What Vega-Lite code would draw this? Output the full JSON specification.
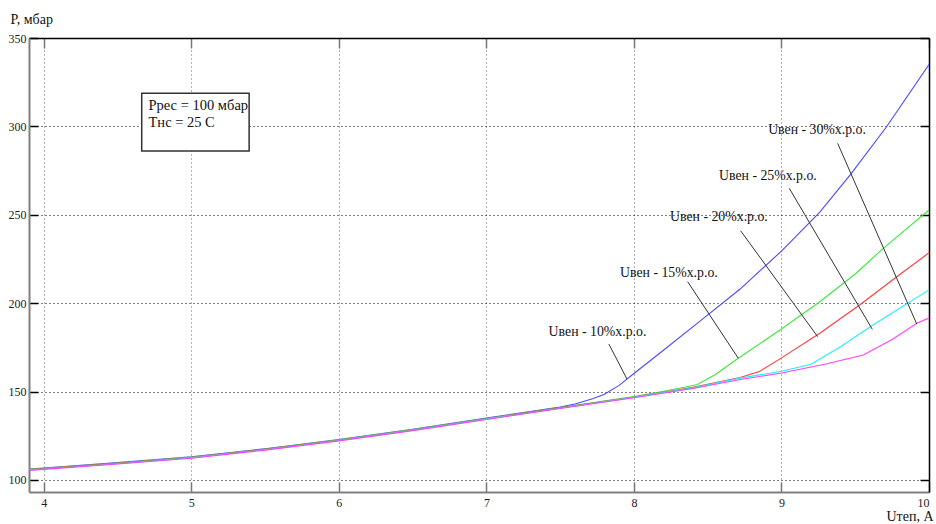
{
  "$schema": "https://vega.github.io/schema/vega-lite/v6.json",
  "width": 900,
  "height": 454,
  "autosize": "none",
  "padding": {"left": 29, "top": 38, "right": 7, "bottom": 32},
  "background": "white",
  "config": {"view": {"stroke": null}, "font": "Liberation Serif"},
  "datasets": {
    "curves": [
      {"u": 3.9, "p": 106.2, "s": "10%"}, {"u": 4.0, "p": 106.8, "s": "10%"}, {"u": 4.5, "p": 109.8, "s": "10%"}, {"u": 5.0, "p": 113.1, "s": "10%"}, {"u": 5.5, "p": 117.7, "s": "10%"}, {"u": 6.0, "p": 122.9, "s": "10%"}, {"u": 6.5, "p": 128.7, "s": "10%"}, {"u": 7.0, "p": 135.0, "s": "10%"}, {"u": 7.5, "p": 141.3, "s": "10%"}, {"u": 7.6, "p": 143.0, "s": "10%"}, {"u": 7.72, "p": 146.0, "s": "10%"}, {"u": 7.8, "p": 148.5, "s": "10%"}, {"u": 7.9, "p": 153.5, "s": "10%"}, {"u": 8.0, "p": 160.2, "s": "10%"}, {"u": 8.2, "p": 173.4, "s": "10%"}, {"u": 8.45, "p": 190.0, "s": "10%"}, {"u": 8.72, "p": 208.0, "s": "10%"}, {"u": 9.0, "p": 229.5, "s": "10%"}, {"u": 9.26, "p": 251.5, "s": "10%"}, {"u": 9.47, "p": 273.0, "s": "10%"}, {"u": 9.71, "p": 299.5, "s": "10%"}, {"u": 10.0, "p": 335.0, "s": "10%"},
      {"u": 3.9, "p": 106.0, "s": "15%"}, {"u": 4.0, "p": 106.6, "s": "15%"}, {"u": 4.5, "p": 109.6, "s": "15%"}, {"u": 5.0, "p": 112.9, "s": "15%"}, {"u": 5.5, "p": 117.5, "s": "15%"}, {"u": 6.0, "p": 122.7, "s": "15%"}, {"u": 6.5, "p": 128.5, "s": "15%"}, {"u": 7.0, "p": 134.8, "s": "15%"}, {"u": 7.5, "p": 141.0, "s": "15%"}, {"u": 8.0, "p": 147.2, "s": "15%"}, {"u": 8.2, "p": 150.2, "s": "15%"}, {"u": 8.35, "p": 152.6, "s": "15%"}, {"u": 8.43, "p": 154.0, "s": "15%"}, {"u": 8.55, "p": 159.5, "s": "15%"}, {"u": 8.7, "p": 168.4, "s": "15%"}, {"u": 8.99, "p": 184.8, "s": "15%"}, {"u": 9.26, "p": 200.8, "s": "15%"}, {"u": 9.5, "p": 216.5, "s": "15%"}, {"u": 9.69, "p": 231.0, "s": "15%"}, {"u": 10.0, "p": 252.7, "s": "15%"},
      {"u": 3.9, "p": 105.8, "s": "20%"}, {"u": 4.0, "p": 106.4, "s": "20%"}, {"u": 4.5, "p": 109.4, "s": "20%"}, {"u": 5.0, "p": 112.7, "s": "20%"}, {"u": 5.5, "p": 117.3, "s": "20%"}, {"u": 6.0, "p": 122.5, "s": "20%"}, {"u": 6.5, "p": 128.3, "s": "20%"}, {"u": 7.0, "p": 134.6, "s": "20%"}, {"u": 7.5, "p": 140.8, "s": "20%"}, {"u": 8.0, "p": 146.9, "s": "20%"}, {"u": 8.4, "p": 152.4, "s": "20%"}, {"u": 8.72, "p": 158.0, "s": "20%"}, {"u": 8.85, "p": 161.3, "s": "20%"}, {"u": 8.99, "p": 168.5, "s": "20%"}, {"u": 9.26, "p": 183.0, "s": "20%"}, {"u": 9.53, "p": 199.0, "s": "20%"}, {"u": 9.75, "p": 213.0, "s": "20%"}, {"u": 10.0, "p": 228.5, "s": "20%"},
      {"u": 3.9, "p": 105.6, "s": "25%"}, {"u": 4.0, "p": 106.2, "s": "25%"}, {"u": 4.5, "p": 109.2, "s": "25%"}, {"u": 5.0, "p": 112.5, "s": "25%"}, {"u": 5.5, "p": 117.1, "s": "25%"}, {"u": 6.0, "p": 122.3, "s": "25%"}, {"u": 6.5, "p": 128.1, "s": "25%"}, {"u": 7.0, "p": 134.4, "s": "25%"}, {"u": 7.5, "p": 140.6, "s": "25%"}, {"u": 8.0, "p": 146.7, "s": "25%"}, {"u": 8.4, "p": 152.1, "s": "25%"}, {"u": 8.72, "p": 157.6, "s": "25%"}, {"u": 9.0, "p": 161.5, "s": "25%"}, {"u": 9.2, "p": 165.5, "s": "25%"}, {"u": 9.4, "p": 175.4, "s": "25%"}, {"u": 9.62, "p": 187.7, "s": "25%"}, {"u": 10.0, "p": 207.5, "s": "25%"},
      {"u": 3.9, "p": 105.4, "s": "30%"}, {"u": 4.0, "p": 106.0, "s": "30%"}, {"u": 4.5, "p": 109.0, "s": "30%"}, {"u": 5.0, "p": 112.3, "s": "30%"}, {"u": 5.5, "p": 116.9, "s": "30%"}, {"u": 6.0, "p": 122.1, "s": "30%"}, {"u": 6.5, "p": 127.9, "s": "30%"}, {"u": 7.0, "p": 134.2, "s": "30%"}, {"u": 7.5, "p": 140.4, "s": "30%"}, {"u": 8.0, "p": 146.5, "s": "30%"}, {"u": 8.4, "p": 151.7, "s": "30%"}, {"u": 8.72, "p": 156.8, "s": "30%"}, {"u": 9.0, "p": 160.5, "s": "30%"}, {"u": 9.3, "p": 165.6, "s": "30%"}, {"u": 9.555, "p": 170.7, "s": "30%"}, {"u": 9.75, "p": 179.5, "s": "30%"}, {"u": 9.92, "p": 188.8, "s": "30%"}, {"u": 10.0, "p": 191.6, "s": "30%"}
    ],
    "labels": [
      {"t": "Uвен - 10%х.р.о.", "u": 7.753, "p": 183.5, "u2": 7.83, "p2": 176.9, "u3": 7.953, "p3": 157.1},
      {"t": "Uвен - 15%х.р.о.", "u": 8.237, "p": 217.3, "u2": 8.364, "p2": 212.2, "u3": 8.707, "p3": 168.9},
      {"t": "Uвен - 20%х.р.о.", "u": 8.576, "p": 248.8, "u2": 8.723, "p2": 241.0, "u3": 9.245, "p3": 181.1},
      {"t": "Uвен - 25%х.р.о.", "u": 8.908, "p": 271.9, "u2": 9.053, "p2": 265.0, "u3": 9.616, "p3": 185.2},
      {"t": "Uвен - 30%х.р.о.", "u": 9.241, "p": 298.0, "u2": 9.381, "p2": 290.4, "u3": 9.917, "p3": 188.2}
    ],
    "box": [{"u": 4.664, "u2": 5.392, "p": 318.7, "p2": 286.1}],
    "boxtext": [
      {"t": "Pрес = 100 мбар", "u": 4.71, "p": 311.3},
      {"t": "Tнс = 25 C", "u": 4.71, "p": 302.2}
    ]
  },
  "resolve": {"axis": {"x": "independent", "y": "independent"}},
  "layer": [
    {
      "data": {"name": "curves"},
      "mark": {"type": "line", "strokeWidth": 1.1, "clip": true},
      "encoding": {
        "x": {
          "field": "u", "type": "quantitative",
          "scale": {"domain": [3.9, 10], "nice": false, "zero": false},
          "axis": {
            "orient": "bottom", "values": [4, 5, 6, 7, 8, 9, 10], "format": "d",
            "grid": true, "gridDash": [1, 3], "gridColor": "#666", "gridWidth": 1,
            "tickSize": -10, "tickColor": "#777", "tickWidth": 1.5,
            "domainColor": "#808080", "domainWidth": 2,
            "labelFont": "Liberation Sans Narrow", "labelFontSize": 12, "labelColor": "#222", "labelPadding": 15,
            "title": "Uтеп, A", "titleFont": "Liberation Serif", "titleFontSize": 14, "titleFontWeight": "normal", "titleColor": "#111",
            "titleAlign": "right", "titleBaseline": "alphabetic", "titleX": 904, "titleY": 28, "titleAnchor": null
          }
        },
        "y": {
          "field": "p", "type": "quantitative",
          "scale": {"domain": [93.2, 350], "nice": false, "zero": false},
          "axis": {
            "orient": "left", "values": [100, 150, 200, 250, 300, 350], "format": "d",
            "grid": true, "gridDash": [1, 3], "gridColor": "#000", "gridWidth": 1,
            "tickSize": -9, "tickColor": "#000", "tickWidth": 1.5,
            "domainColor": "#808080", "domainWidth": 2,
            "labelFont": "Liberation Sans Narrow", "labelFontSize": 12, "labelColor": "#222", "labelPadding": 12,
            "title": "P, мбар", "titleFont": "Liberation Serif", "titleFontSize": 14, "titleFontWeight": "normal", "titleColor": "#111",
            "titleAngle": 0, "titleAlign": "left", "titleBaseline": "alphabetic", "titleX": -19, "titleY": -15
          }
        },
        "color": {
          "field": "s", "type": "nominal",
          "scale": {"domain": ["10%", "15%", "20%", "25%", "30%"], "range": ["#4a4aff", "#3ee63e", "#ff3a3a", "#22eeff", "#ff40ff"]},
          "legend": null
        },
        "order": {"field": "u", "type": "quantitative"}
      }
    },
    {
      "data": {"name": "labels"},
      "mark": {"type": "rule", "color": "#333", "strokeWidth": 1},
      "encoding": {
        "x": {"field": "u2", "type": "quantitative", "axis": null},
        "y": {"field": "p2", "type": "quantitative", "axis": null},
        "x2": {"field": "u3"},
        "y2": {"field": "p3"}
      }
    },
    {
      "data": {"name": "labels"},
      "mark": {"type": "text", "font": "Liberation Serif", "fontSize": 13.8, "color": "#111", "align": "center", "baseline": "middle"},
      "encoding": {
        "x": {"field": "u", "type": "quantitative", "axis": null},
        "y": {"field": "p", "type": "quantitative", "axis": null},
        "text": {"field": "t"}
      }
    },
    {
      "data": {"name": "box"},
      "mark": {"type": "rect", "fill": "white", "stroke": "#333", "strokeWidth": 1.5},
      "encoding": {
        "x": {
          "field": "u", "type": "quantitative",
          "axis": {"orient": "top", "values": [4, 5, 6, 7, 8, 9, 10], "labels": false, "grid": false, "tickSize": -10, "tickColor": "#777", "tickWidth": 1.5, "domainColor": "#000", "domainWidth": 1.5, "title": null}
        },
        "x2": {"field": "u2"},
        "y": {
          "field": "p", "type": "quantitative",
          "axis": {"orient": "right", "values": [100, 150, 200, 250, 300, 350], "labels": false, "grid": false, "tickSize": -9, "tickColor": "#000", "tickWidth": 1.5, "domainColor": "#000", "domainWidth": 1.5, "title": null}
        },
        "y2": {"field": "p2"}
      }
    },
    {
      "data": {"name": "boxtext"},
      "mark": {"type": "text", "font": "Liberation Serif", "fontSize": 14.5, "color": "#111", "align": "left", "baseline": "middle"},
      "encoding": {
        "x": {"field": "u", "type": "quantitative", "axis": null},
        "y": {"field": "p", "type": "quantitative", "axis": null},
        "text": {"field": "t"}
      }
    }
  ]
}
